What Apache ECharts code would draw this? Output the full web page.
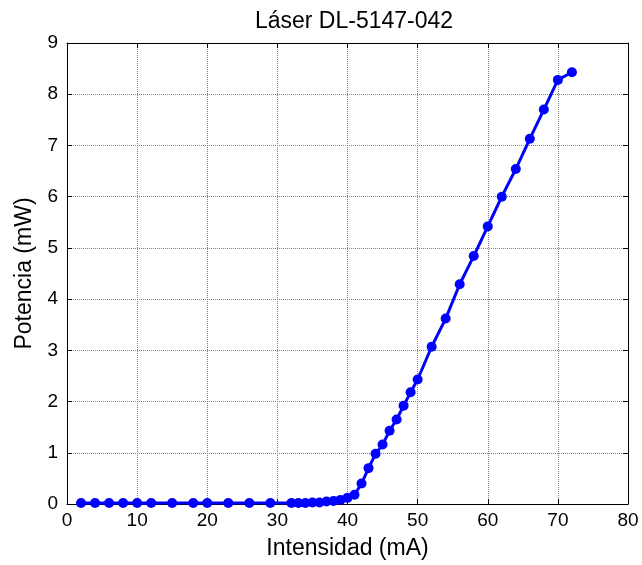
<!DOCTYPE html>
<html>
<head>
<meta charset="utf-8">
<script src="https://cdn.jsdelivr.net/npm/echarts@6/dist/echarts.min.js"></script>
<style>
  html, body { margin: 0; padding: 0; background: #fff; }
  #chart { width: 642px; height: 565px; }
</style>
</head>
<body>
<div id="chart"></div>
<script>
// corriente (mA) y potencia (mW) medidas
const intensidad = [2, 4, 6, 8, 10, 12, 15, 18, 20, 23, 26, 29, 32, 33, 34, 35, 36, 37, 38, 39, 40,
  41, 42, 43, 44, 45, 46, 47, 48, 49, 50, 52, 54, 56, 58, 60, 62, 64, 66, 68, 70, 72]
const potencia = [0.02, 0.02, 0.02, 0.02, 0.02, 0.02, 0.02, 0.02, 0.02, 0.02, 0.02, 0.02, 0.02, 0.02, 0.02, 0.03, 0.03, 0.05, 0.06, 0.08, 0.12,
  0.18, 0.40, 0.70, 0.98, 1.16, 1.43, 1.65, 1.92, 2.18, 2.43, 3.07, 3.62, 4.29, 4.84, 5.42, 6.00, 6.54, 7.13, 7.70, 8.28, 8.43]
const xTicks = [0, 10, 20, 30, 40, 50, 60, 70, 80]
const yTicks = [0, 1, 2, 3, 4, 5, 6, 7, 8, 9]

const chart = echarts.init(document.getElementById('chart'))

const fuente = 'Liberation Sans, Arial, sans-serif'
const labelFont = { color: '#000', fontFamily: fuente, fontSize: 19 }
const nameFont = { color: '#000', fontFamily: fuente, fontSize: 23 }
const axisBase = {
  axisLine: { show: true, onZero: false, lineStyle: { color: '#000', width: 1 } },
  axisTick: { show: true, inside: true, length: 5, lineStyle: { color: '#000' } }
}
const gridLine = { show: true, lineStyle: { color: '#808080', type: [1, 1], width: 1 } }

chart.setOption({
  animation: false,
  title: {
    text: 'Láser DL-5147-042',
    left: 349,
    textAlign: 'center',
    top: 5,
    textStyle: { ...nameFont, fontWeight: 'normal' }
  },
  grid: { left: 67, right: 14, top: 43, bottom: 60 },
  xAxis: [
    {
      ...axisBase,
      type: 'value', min: 0, max: 80, interval: 10,
      name: 'Intensidad (mA)', nameLocation: 'middle', nameGap: 33,
      nameTextStyle: nameFont,
      axisLabel: { ...labelFont, margin: 7 },
      splitLine: gridLine
    },
    {
      ...axisBase,
      type: 'value', min: 0, max: 80, interval: 10, position: 'top',
      axisLabel: { show: false }, splitLine: { show: false }
    }
  ],
  yAxis: [
    {
      ...axisBase,
      type: 'value', min: 0, max: 9, interval: 1,
      name: 'Potencia (mW)', nameLocation: 'middle', nameGap: 30,
      nameTextStyle: nameFont,
      axisLabel: { ...labelFont, margin: 9 },
      splitLine: gridLine
    },
    {
      ...axisBase,
      type: 'value', min: 0, max: 9, interval: 1, position: 'right',
      axisLabel: { show: false }, splitLine: { show: false }
    }
  ],
  series: [{
    type: 'line',
    data: intensidad.map((x, i) => [x, potencia[i]]),
    symbol: 'circle',
    symbolSize: 10,
    lineStyle: { color: '#0000ff', width: 3 },
    itemStyle: { color: '#0000ff' },
    clip: false
  }]
})
</script>
</body>
</html>
